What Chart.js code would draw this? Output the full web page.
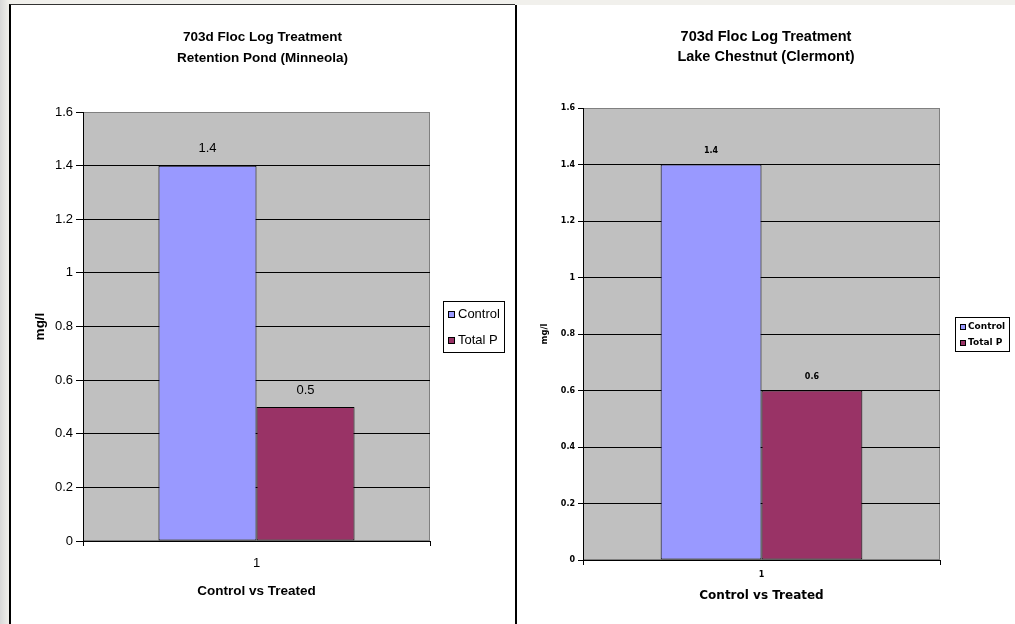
<!DOCTYPE html>
<html>
<head>
<meta charset="utf-8">
<title>703d Floc Log Treatment</title>
<script src="https://cdn.jsdelivr.net/npm/chart.js@4.4.1/dist/chart.umd.min.js"></script>
<style>
  html, body { margin: 0; padding: 0; }
  body {
    width: 1015px; height: 624px; overflow: hidden; position: relative;
    background: linear-gradient(to right, #d8d8d8 0px, #f1f0ec 9px);
  }
  .panel { position: absolute; height: 640px; background: #fff; }
  #leftPanel { left: 9px; top: 4px; width: 504px; border-left: 2px solid #000; border-top: 1px solid #333; }
  #rightPanel { left: 515px; top: 5px; width: 520px; border-left: 2px solid #000; }
  canvas { position: absolute; left: 0; top: 0; }
</style>
</head>
<body>
<div class="panel" id="leftPanel"><canvas id="minneola" width="503" height="619"></canvas></div>
<div class="panel" id="rightPanel"><canvas id="clermont" width="498" height="619"></canvas></div>
<script>
// data
const categories = ['1'];
const seriesNames = ['Control', 'Total P'];
const seriesColors = ['#9999FF', '#993366'];
const minneolaControl = [1.4];
const minneolaTotalP = [0.5];
const clermontControl = [1.4];
const clermontTotalP = [0.6];
const yTicks = [0, 0.2, 0.4, 0.6, 0.8, 1, 1.2, 1.4, 1.6];
const minneolaTitle = ['703d Floc Log Treatment', 'Retention Pond (Minneola)'];
const clermontTitle = ['703d Floc Log Treatment', 'Lake Chestnut (Clermont)'];
const xAxisTitle = 'Control vs Treated';
const yAxisTitle = 'mg/l';

Chart.defaults.font.family = '"Liberation Sans", Arial, sans-serif';
Chart.defaults.color = '#000';

function buildChart(canvasId, controlValues, totalPValues, titleLines, look) {
  // grey Excel plot area
  const plotBackground = {
    id: 'plotBackground',
    beforeDraw(chart) {
      const a = chart.chartArea, ctx = chart.ctx;
      ctx.save();
      ctx.fillStyle = '#C0C0C0';
      ctx.fillRect(a.left, a.top, a.right - a.left, a.bottom - a.top);
      ctx.strokeStyle = '#808080';
      ctx.lineWidth = 1;
      ctx.strokeRect(a.left + 0.5, a.top + 0.5, a.right - a.left - 1, a.bottom - a.top - 1);
      ctx.restore();
    }
  };

  // value labels above the bars
  const barValues = {
    id: 'barValues',
    afterDatasetsDraw(chart) {
      const ctx = chart.ctx;
      ctx.save();
      ctx.font = look.valueFont;
      ctx.fillStyle = '#000';
      ctx.textAlign = 'center';
      ctx.textBaseline = 'middle';
      chart.data.datasets.forEach((ds, i) => {
        chart.getDatasetMeta(i).data.forEach((bar, j) => {
          ctx.fillText(String(ds.data[j]), bar.x, bar.y - look.valueGap);
        });
      });
      ctx.restore();
    }
  };

  // boxed legend like Excel's
  const boxLegend = {
    id: 'boxLegend',
    afterDraw(chart) {
      const a = chart.chartArea, ctx = chart.ctx, L = look.legend;
      const n = chart.data.datasets.length;
      const left = Math.round(a.right + L.gap);
      const top = Math.round((a.top + a.bottom) / 2 - L.height / 2);
      ctx.save();
      ctx.fillStyle = '#fff';
      ctx.fillRect(left, top, L.width, L.height);
      ctx.strokeStyle = '#000';
      ctx.lineWidth = 1;
      ctx.strokeRect(left + 0.5, top + 0.5, L.width - 1, L.height - 1);
      ctx.font = L.font;
      ctx.textBaseline = 'middle';
      ctx.textAlign = 'left';
      chart.data.datasets.forEach((ds, i) => {
        const cy = top + L.height / 2 + (i - (n - 1) / 2) * L.rowGap;
        const sx = left + L.swatchX, sy = Math.round(cy - L.swatch / 2);
        ctx.fillStyle = ds.backgroundColor;
        ctx.fillRect(sx, sy, L.swatch, L.swatch);
        ctx.strokeStyle = '#000';
        ctx.strokeRect(sx + 0.5, sy + 0.5, L.swatch - 1, L.swatch - 1);
        ctx.fillStyle = '#000';
        ctx.fillText(ds.label, left + L.textX, cy);
      });
      ctx.restore();
    }
  };

  const top = yTicks[yTicks.length - 1];

  return new Chart(document.getElementById(canvasId), {
    type: 'bar',
    data: {
      labels: categories,
      datasets: [
        { label: seriesNames[0], data: controlValues, backgroundColor: seriesColors[0],
          borderColor: '#000', borderWidth: 1, borderSkipped: false },
        { label: seriesNames[1], data: totalPValues, backgroundColor: seriesColors[1],
          borderColor: '#000', borderWidth: 1, borderSkipped: false }
      ]
    },
    options: {
      responsive: false,
      animation: false,
      devicePixelRatio: 1,
      layout: { padding: { top: look.padTop, left: 0, right: 0, bottom: look.padBottom } },
      datasets: { bar: { categoryPercentage: 0.565, barPercentage: 1 } },
      plugins: {
        legend: { display: false },
        tooltip: { enabled: false },
        title: { display: true, text: titleLines, color: '#000', font: look.titleFont, padding: look.titlePad }
      },
      scales: {
        x: {
          grid: { display: true, drawOnChartArea: false, offset: true, color: '#000', tickLength: 5 },
          border: { color: '#000' },
          ticks: { font: look.tickFont, padding: look.xTickPad, color: '#000' },
          title: { display: true, text: xAxisTitle, color: '#000', font: look.xTitleFont,
                   padding: { top: 0, bottom: look.xTitlePadBottom } },
          afterFit(scale) { scale.height = look.xHeight; }
        },
        y: {
          min: yTicks[0],
          max: top,
          afterBuildTicks(scale) { scale.ticks = yTicks.map(v => ({ value: v })); },
          grid: {
            color: c => (c.tick && c.tick.value === top) ? '#808080' : '#000',
            tickColor: '#000',
            tickLength: look.yTickLength
          },
          border: { color: '#000' },
          ticks: { font: look.tickFont, padding: 3, color: '#000', callback: v => String(v) },
          title: { display: true, text: yAxisTitle, color: '#000', font: look.yTitleFont,
                   padding: { top: look.yTitlePadTop, bottom: 0 } },
          afterFit(scale) { scale.width = look.yWidth; }
        },
        // keeps room on the right for the legend box
        legendRoom: {
          type: 'linear', position: 'right', display: true,
          grid: { display: false }, ticks: { display: false }, border: { display: false },
          afterFit(scale) { scale.width = look.rightSpace; }
        }
      }
    },
    plugins: [plotBackground, barValues, boxLegend]
  });
}

buildChart('minneola', minneolaControl, minneolaTotalP, minneolaTitle, {
  padTop: 5, padBottom: 21,
  titleFont: { size: 13.5, weight: 'bold', lineHeight: '21px' },
  titlePad: { top: 16.5, bottom: 43.5 },
  tickFont: { size: 13 },
  xTickPad: 10, xHeight: 62, xTitlePadBottom: 4,
  xTitleFont: { size: 13.5, weight: 'bold' },
  yWidth: 72, yTickLength: 7, yTitlePadTop: 21,
  yTitleFont: { size: 13.5, weight: 'bold' },
  rightSpace: 84,
  valueFont: '13px "Liberation Sans"', valueGap: 17,
  legend: { gap: 13, width: 62, height: 52, rowGap: 26, swatch: 7, swatchX: 5, textX: 15,
            font: '13px "Liberation Sans"' }
});

buildChart('clermont', clermontControl, clermontTotalP, clermontTitle, {
  padTop: 5, padBottom: 17,
  titleFont: { size: 14.5, weight: 'bold', lineHeight: '20px' },
  titlePad: { top: 17, bottom: 41 },
  tickFont: { family: '"DejaVu Sans"', size: 8, weight: 'bold' },
  xTickPad: 5, xHeight: 47, xTitlePadBottom: 4,
  xTitleFont: { family: '"DejaVu Sans"', size: 12, weight: 'bold' },
  yWidth: 66, yTickLength: 5, yTitlePadTop: 23,
  yTitleFont: { family: '"DejaVu Sans"', size: 8.5, weight: 'bold' },
  rightSpace: 75,
  valueFont: 'bold 8px "DejaVu Sans"', valueGap: 14,
  legend: { gap: 15, width: 55, height: 35, rowGap: 16, swatch: 6, swatchX: 5, textX: 13,
            font: 'bold 9px "DejaVu Sans"' }
});
</script>
</body>
</html>
